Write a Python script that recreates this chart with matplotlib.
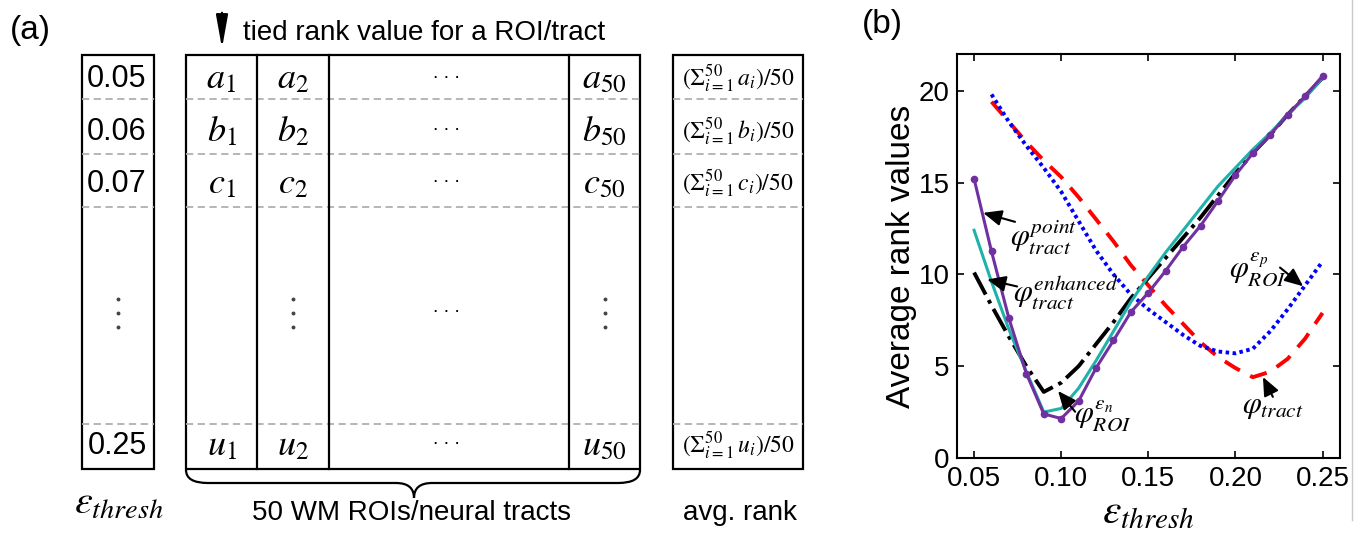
import numpy as np
import matplotlib
matplotlib.use('Agg')
import matplotlib.pyplot as plt
from matplotlib.patches import Rectangle, PathPatch
from matplotlib.path import Path

plt.rcParams['font.family'] = ['Liberation Sans', 'DejaVu Sans']
plt.rcParams['mathtext.fontset'] = 'stix'

# ---- panel (b) data ----
eps_thresh = [0.05, 0.06, 0.07, 0.08, 0.09, 0.10, 0.11, 0.12, 0.13, 0.14, 0.15,
              0.16, 0.17, 0.18, 0.19, 0.20, 0.21, 0.22, 0.23, 0.24, 0.25]
eps_thresh_roi = [0.06, 0.07, 0.08, 0.09, 0.10, 0.11, 0.12, 0.13, 0.14, 0.15,
                  0.16, 0.17, 0.18, 0.19, 0.20, 0.21, 0.22, 0.23, 0.24, 0.25]

phi_point_tract = [15.2, 11.25, 7.6, 4.6, 2.4, 2.15, 3.1, 4.9, 6.4, 7.95, 9.0,
                   10.2, 11.5, 12.65, 14.0, 15.4, 16.6, 17.6, 18.7, 19.7, 20.8]
phi_enhanced_tract = [12.4, 9.6, 7.0, 4.7, 2.5, 2.7, 3.8, 5.3, 6.9, 8.5, 9.9,
                      11.2, 12.4, 13.6, 14.8, 15.8, 16.8, 17.7, 18.7, 19.6, 20.7]
phi_roi_n = [10.1, 8.3, 6.6, 5.0, 3.6, 4.1, 5.0, 6.2, 7.4, 8.7, 9.8,
             10.9, 12.0, 13.1, 14.3, 15.5, 16.6, 17.6, 18.7, 19.7, 20.7]
phi_roi_p = [19.8, 18.3, 17.0, 15.8, 14.5, 12.9, 11.3, 10.0, 8.9, 8.1,
             7.4, 6.7, 6.1, 5.8, 5.7, 5.95, 6.9, 8.1, 9.4, 10.7]
phi_tract = [19.4, 18.3, 17.2, 16.2, 15.3, 14.2, 13.0, 11.8, 10.5, 9.4,
             8.3, 7.3, 6.3, 5.5, 4.9, 4.4, 4.7, 5.4, 6.5, 7.9]

# ---- panel (a) table contents ----
thresh_labels = ['0.05', '0.06', '0.07', '0.25']
row_letters = ['a', 'b', 'c', 'u']

fig = plt.figure(figsize=(13.62, 5.33), dpi=100)

# panel (a) drawn in pixel coordinates
ax_a = fig.add_axes([0, 0, 1, 1])
ax_a.set_xlim(0, 1362)
ax_a.set_ylim(533, 0)
ax_a.axis('off')

top, bot = 55, 469
dash_y = [99, 154, 207, 424]
row_y = [79, 132, 184, 446]
left_box = (82, 154)
col_x = [186, 257, 329, 569, 640]
avg_box = (673, 803)
blw = 1.6

for x0, x1 in [left_box, (col_x[0], col_x[-1]), avg_box]:
    for yy in dash_y:
        ax_a.plot([x0, x1], [yy, yy], color='#b0b0b0', lw=1.3, ls=(0, (4, 2.5)))
    ax_a.add_patch(Rectangle((x0, top), x1 - x0, bot - top, fill=False,
                             ec='black', lw=blw))
for xx in col_x[1:-1]:
    ax_a.plot([xx, xx], [top, bot], color='black', lw=blw)

cx = [(col_x[i] + col_x[i + 1]) / 2 for i in range(4)]
for i in range(4):
    ax_a.text(sum(left_box) / 2 - 1, row_y[i], thresh_labels[i], fontsize=22,
              ha='center', va='center')
    l = row_letters[i]
    ax_a.text(cx[0], row_y[i], '$%s_1$' % l, fontsize=26, ha='center', va='center')
    ax_a.text(cx[1], row_y[i], '$%s_2$' % l, fontsize=26, ha='center', va='center')
    ax_a.text(cx[2] - 3, row_y[i] - 6, '. . .', fontsize=14, ha='center', va='center')
    ax_a.text(cx[3], row_y[i], '$%s_{50}$' % l, fontsize=26, ha='center', va='center')
    ax_a.text(sum(avg_box) / 2, row_y[i],
              r'$(\Sigma_{i=1}^{50}\,%s_i)/50$' % l, fontsize=17,
              ha='center', va='center')

for xx in [sum(left_box) / 2, cx[1], cx[3]]:
    for dy in (-14, 0, 14):
        ax_a.plot(xx, 313 + dy, 'o', color='#444444', ms=1.8)
ax_a.text(cx[2] - 3, 307, '. . .', fontsize=14, ha='center', va='center')

# arrow + header text
ax_a.annotate('', xy=(222, 51), xytext=(222, 10),
              arrowprops=dict(arrowstyle='-|>,head_length=1.0,head_width=0.18',
                              color='black', lw=1.6, mutation_scale=20))
ax_a.text(243, 33, 'tied rank value for a ROI/tract', fontsize=20,
          ha='left', va='center')

# brace under the tracts table
bx0, bx1, btip = col_x[0], col_x[-1], 414
by0, by1, by2 = 470, 483, 498
verts = [(bx0, by0), (bx0, by1), (bx0 + 22, by1),
         (btip - 18, by1),
         (btip, by1), (btip, by2),
         (btip, by1), (btip + 18, by1),
         (bx1 - 22, by1),
         (bx1, by1), (bx1, by0)]
codes = [Path.MOVETO, Path.CURVE3, Path.CURVE3,
         Path.LINETO,
         Path.CURVE3, Path.CURVE3,
         Path.CURVE3, Path.CURVE3,
         Path.LINETO,
         Path.CURVE3, Path.CURVE3]
ax_a.add_patch(PathPatch(Path(verts, codes), fill=False, ec='black', lw=1.6))

ax_a.text(411, 513, '50 WM ROIs/neural tracts', fontsize=20, ha='center', va='center')
ax_a.text(740, 513, 'avg. rank', fontsize=20, ha='center', va='center')
ax_a.text(119, 503, r'$\varepsilon_{thresh}$', fontsize=29, ha='center', va='center')
ax_a.text(10, 30, '(a)', fontsize=24, ha='left', va='center')
ax_a.text(862, 24, '(b)', fontsize=24, ha='left', va='center')
ax_a.plot([1352, 1352], [0, 520], color='#c8c8c8', lw=1)

# ---- panel (b) ----
ax = fig.add_axes([0.7024, 0.1407, 0.2814, 0.758])
ax.plot(eps_thresh_roi, phi_tract, color='#ff0000', lw=2.8, dashes=(4.5, 3.0))
ax.plot(eps_thresh_roi, phi_roi_p, color='#0000ff', lw=2.8, dashes=(0.9, 0.9))
ax.plot(eps_thresh, phi_roi_n, color='black', lw=2.8, ls='-.')
ax.plot(eps_thresh, phi_enhanced_tract, color='#20b2aa', lw=2.2)
ax.plot(eps_thresh, phi_point_tract, color='#7030a0', lw=2.2, marker='o', ms=4.5)

ax.set_xlim(0.04, 0.26)
ax.set_ylim(0, 22)
ax.set_xticks([0.05, 0.10, 0.15, 0.20, 0.25])
ax.set_xticklabels(['0.05', '0.10', '0.15', '0.20', '0.25'])
ax.set_yticks([0, 5, 10, 15, 20])
ax.tick_params(direction='in', top=True, right=True, labelsize=20, length=5,
               width=1.2)
ax.tick_params(axis='x', pad=6)
ax.tick_params(axis='y', pad=5)
for sp in ax.spines.values():
    sp.set_linewidth(1.5)
ax.set_ylabel('Average rank values', fontsize=24, labelpad=1)
ax.set_xlabel(r'$\varepsilon_{thresh}$', fontsize=30, labelpad=0)

arrow = dict(arrowstyle='-|>,head_length=0.7,head_width=0.3', color='black',
             lw=1.5, mutation_scale=16, shrinkA=0, shrinkB=0)
labels = [
    (r'$\varphi_{tract}^{point}$', (0.0705, 12.0), (0.0552, 13.35), (0.0735, 12.86)),
    (r'$\varphi_{tract}^{enhanced}$', (0.0722, 9.05), (0.0575, 9.72), (0.0747, 9.34)),
    (r'$\varphi_{ROI}^{\varepsilon_n}$', (0.1075, 2.3), (0.0982, 3.65), (0.108, 2.52)),
    (r'$\varphi_{ROI}^{\varepsilon_p}$', (0.1965, 10.3), (0.2389, 9.35), (0.2256, 10.37)),
    (r'$\varphi_{tract}$', (0.204, 2.85), (0.2158, 4.41), (0.2215, 3.33)),
]
for txt, pos, head, tail in labels:
    ax.text(pos[0], pos[1], txt, fontsize=22, ha='left', va='center')
    ax.annotate('', xy=head, xytext=tail, arrowprops=arrow)

fig.savefig('out.png', dpi=100)
